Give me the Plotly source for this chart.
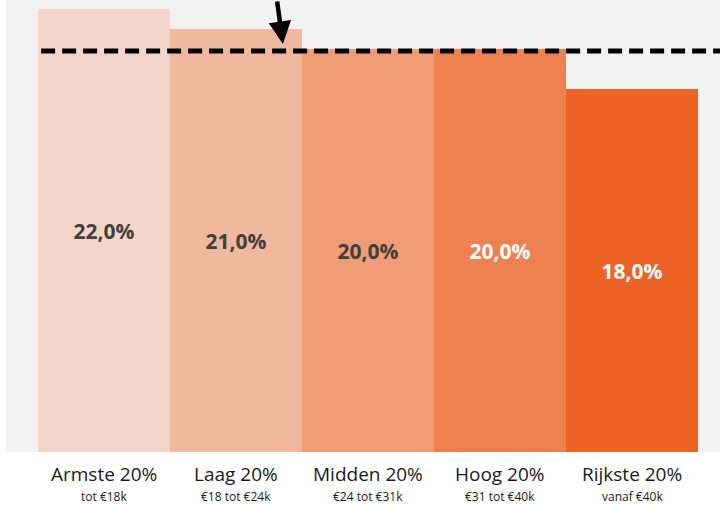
import plotly.graph_objects as go

categories = ["Armste 20%", "Laag 20%", "Midden 20%", "Hoog 20%", "Rijkste 20%"]
subtitles = ["tot €18k", "€18 tot €24k", "€24 tot €31k", "€31 tot €40k", "vanaf €40k"]
values = [22.0, 21.0, 20.0, 20.0, 18.0]
reference_line = 19.9
bar_colors = ["#F2D5C8", "#F0B89C", "#F09D75", "#EE8150", "#EC6325"]
text_colors = ["#404040", "#404040", "#404040", "#FFFFFF", "#FFFFFF"]

xs = list(range(len(categories)))
labels = [f"{v:.1f}%".replace(".", ",") for v in values]

fig = go.Figure()
fig.add_trace(go.Bar(
    x=xs, y=values, width=1.0,
    marker=dict(color=bar_colors, line=dict(width=0)),
    text=labels, textposition="inside", insidetextanchor="middle",
    textfont=dict(family="Open Sans", size=21, color=text_colors, weight="bold"),
    textangle=0, hoverinfo="skip",
))

annotations = []
for i, (c, s) in enumerate(zip(categories, subtitles)):
    annotations.append(dict(x=i, y=0, xref="x", yref="y", yshift=-22, text=c,
                            showarrow=False, font=dict(family="Open Sans", size=19, color="#1a1a1a")))
    annotations.append(dict(x=i, y=0, xref="x", yref="y", yshift=-44, text=s,
                            showarrow=False, font=dict(family="Open Sans", size=12, color="#1a1a1a")))

annotations.append(dict(x=1.352, y=20.25, xref="x", yref="y", text="", showarrow=True,
                        ax=-6, ay=-48, axref="pixel", ayref="pixel",
                        arrowhead=2, arrowsize=1.0, arrowwidth=4.5, arrowcolor="#000000", standoff=0))

fig.add_shape(type="line", xref="x", yref="y", x0=-0.48, x1=4.7, y0=reference_line, y1=reference_line,
              line=dict(color="#000000", width=5, dash="14px,7px"))

fig.update_layout(
    width=720, height=506,
    margin=dict(l=6, r=0, t=0, b=54, autoexpand=False),
    paper_bgcolor="#FFFFFF", plot_bgcolor="#F2F2F2",
    showlegend=False, bargap=0,
    xaxis=dict(range=[-0.746, 4.663], showticklabels=False, showgrid=False, zeroline=False, fixedrange=True),
    yaxis=dict(range=[0, 22.43], showticklabels=False, showgrid=False, zeroline=False, fixedrange=True),
    annotations=annotations,
    uniformtext=dict(mode="show", minsize=10),
)

fig.write_html("out.html", config={"displayModeBar": False},
               post_script="document.body.style.margin='0';document.body.style.overflow='hidden';")
